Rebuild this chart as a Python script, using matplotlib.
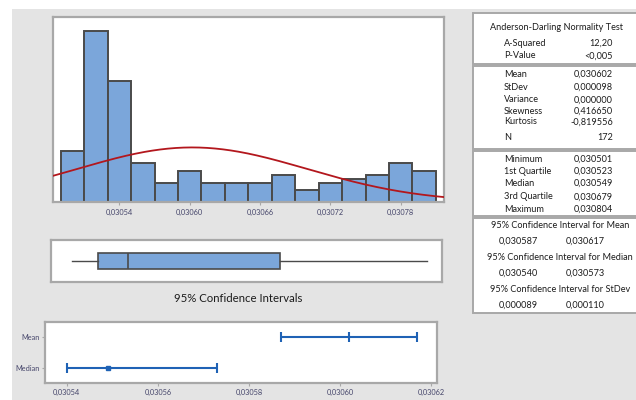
import numpy as np
import matplotlib
matplotlib.use("Agg")
import matplotlib.pyplot as plt
from matplotlib.patches import Rectangle

plt.rcParams['font.family'] = ['Lato', 'DejaVu Sans']

# Histogram bins (centres) and counts
bin_centers = [0.03050, 0.03052, 0.03054, 0.03056, 0.03058, 0.03060, 0.03062, 0.03064,
               0.03066, 0.03068, 0.03070, 0.03072, 0.03074, 0.03076, 0.03078, 0.03080]
counts = [13, 44, 31, 10, 5, 8, 5, 5, 5, 7, 3, 5, 6, 7, 10, 8]
bin_width = 0.00002

# Summary statistics
n_obs = 172
mean_val = 0.030602
stdev_val = 0.000098
minimum, q1, median, q3, maximum = 0.030501, 0.030523, 0.030549, 0.030679, 0.030804
ci_mean = (0.030587, 0.030617)
ci_median = (0.030540, 0.030573)

hist_ticks = [0.03054, 0.03060, 0.03066, 0.03072, 0.03078]
hist_tick_labels = ["0,03054", "0,03060", "0,03066", "0,03072", "0,03078"]
ci_ticks = [0.03054, 0.03056, 0.03058, 0.03060, 0.03062]
ci_tick_labels = ["0,03054", "0,03056", "0,03058", "0,03060", "0,03062"]
ci_rows = ["Median", "Mean"]

# Table content
ad_rows = [("A-Squared", "12,20"), ("P-Value", "<0,005")]
moment_rows = [("Mean", "0,030602"), ("StDev", "0,000098"), ("Variance", "0,000000"),
               ("Skewness", "0,416650"), ("Kurtosis", "-0,819556"), ("N", "172")]
quartile_rows = [("Minimum", "0,030501"), ("1st Quartile", "0,030523"), ("Median", "0,030549"),
                 ("3rd Quartile", "0,030679"), ("Maximum", "0,030804")]
ci_table = [("95% Confidence Interval for Mean", "0,030587", "0,030617"),
            ("95% Confidence Interval for Median", "0,030540", "0,030573"),
            ("95% Confidence Interval for StDev", "0,000089", "0,000110")]

W, H = 636, 400
BAR = '#7ba6da'
EDGE = '#4a4a4a'
FRAME = '#a8a8a8'
BG = '#e4e4e4'
CIBLUE = '#1f62b5'
TXT = '#1c1c1c'


def fx(x):
    return x / W


def fy(y):
    return 1 - y / H


fig = plt.figure(figsize=(W / 100, H / 100), dpi=100, facecolor='white')
fig.patches.append(Rectangle((fx(12), 0), 1, fy(9), transform=fig.transFigure,
                             facecolor=BG, edgecolor='none', zorder=-10))


def style_frame(ax):
    for s in ax.spines.values():
        s.set_color(FRAME)
        s.set_linewidth(1.6)
    ax.set_facecolor('white')


# --- Histogram with fitted normal curve ---
ax_h = fig.add_axes([fx(52.7), fy(202), 391.3 / W, (202 - 17.3) / H])
style_frame(ax_h)
ax_h.bar(bin_centers, counts, width=bin_width, color=BAR, edgecolor=EDGE, linewidth=1.4, zorder=2)
xlim_h = (0.030483, 0.030817)
xs = np.linspace(xlim_h[0], xlim_h[1], 300)
pdf = np.exp(-0.5 * ((xs - mean_val) / stdev_val) ** 2) / (stdev_val * np.sqrt(2 * np.pi))
ax_h.plot(xs, pdf * n_obs * bin_width, color='#b3171d', linewidth=1.3, zorder=3)
ax_h.set_xlim(*xlim_h)
ax_h.set_ylim(0, 47.4)
ax_h.set_yticks([])
ax_h.set_xticks(hist_ticks)
ax_h.set_xticklabels(hist_tick_labels)
ax_h.tick_params(axis='x', length=2, width=0.8, color=FRAME, labelsize=5.3,
                 labelcolor='#45456a', pad=3)

# --- Box plot ---
ax_b = fig.add_axes([fx(51), fy(282), 391 / W, 42 / H])
style_frame(ax_b)
box_stats = [dict(whislo=minimum, q1=q1, med=median, q3=q3, whishi=maximum, fliers=[])]
ax_b.bxp(box_stats, vert=False, widths=0.36, showcaps=False, patch_artist=True,
         boxprops=dict(facecolor=BAR, edgecolor=EDGE, linewidth=1.2),
         medianprops=dict(color=EDGE, linewidth=1.2),
         whiskerprops=dict(color=EDGE, linewidth=1.0))
ax_b.set_xlim(*xlim_h)
ax_b.set_ylim(0.5, 1.5)
ax_b.set_xticks([])
ax_b.set_yticks([])
fig.text(fx(238), fy(298), "95% Confidence Intervals", ha='center', va='center',
         fontsize=8.2, color=TXT)

# --- Confidence intervals for mean and median ---
ax_c = fig.add_axes([fx(45), fy(383), 392 / W, 61 / H])
style_frame(ax_c)
ci_centers = [median, mean_val]
ci_bounds = [ci_median, ci_mean]
for yi, (c, (lo, hi)) in enumerate(zip(ci_centers, ci_bounds)):
    ax_c.errorbar([c], [yi], xerr=[[c - lo], [hi - c]], color=CIBLUE, linewidth=1.5,
                  capsize=3.5, capthick=1.5, fmt='none')
ax_c.plot([mean_val], [1], marker='|', markersize=7, markeredgewidth=1.5, color=CIBLUE)
ax_c.plot([median], [0], marker='s', markersize=2.2, color=CIBLUE)
ax_c.set_xlim(0.0305352, 0.0306213)
ax_c.set_ylim(-0.5, 1.5)
ax_c.set_yticks([0, 1])
ax_c.set_yticklabels(ci_rows)
ax_c.set_xticks(ci_ticks)
ax_c.set_xticklabels(ci_tick_labels)
ax_c.tick_params(axis='both', length=2, width=0.8, color=FRAME, labelsize=5.3,
                 labelcolor='#45456a', pad=2)

# --- Statistics table ---
def box(y0, y1, x0=473, x1=650):
    fig.patches.append(Rectangle((fx(x0), fy(y1)), (x1 - x0) / W, (y1 - y0) / H,
                                 transform=fig.transFigure, facecolor='white',
                                 edgecolor=FRAME, linewidth=1.4, zorder=1))


box(13, 63.5)
box(66, 149)
box(151, 216)
box(218, 313)

TFS = 6.6
LBL_X, VAL_X = 504, 613


def tt(x, y, s, ha='left'):
    fig.text(fx(x), fy(y), s, ha=ha, va='center', fontsize=TFS, color=TXT, zorder=5)


tt(557, 27, "Anderson-Darling Normality Test", ha='center')
for (lbl, val), y in zip(ad_rows, [43, 56]):
    tt(LBL_X, y, lbl)
    tt(VAL_X, y, val, ha='right')
for (lbl, val), y in zip(moment_rows, [74.5, 87, 100, 111, 122, 138]):
    tt(LBL_X, y, lbl)
    tt(VAL_X, y, val, ha='right')
for (lbl, val), y in zip(quartile_rows, [159, 171, 183, 197, 209]):
    tt(LBL_X, y, lbl)
    tt(VAL_X, y, val, ha='right')
for (title, lo, hi), (yt, yv) in zip(ci_table, [(226, 241), (257, 273), (289, 305)]):
    tt(560, yt, title, ha='center')
    tt(518, yv, lo, ha='center')
    tt(585, yv, hi, ha='center')

fig.savefig("out.png", dpi=100, facecolor=fig.get_facecolor())
